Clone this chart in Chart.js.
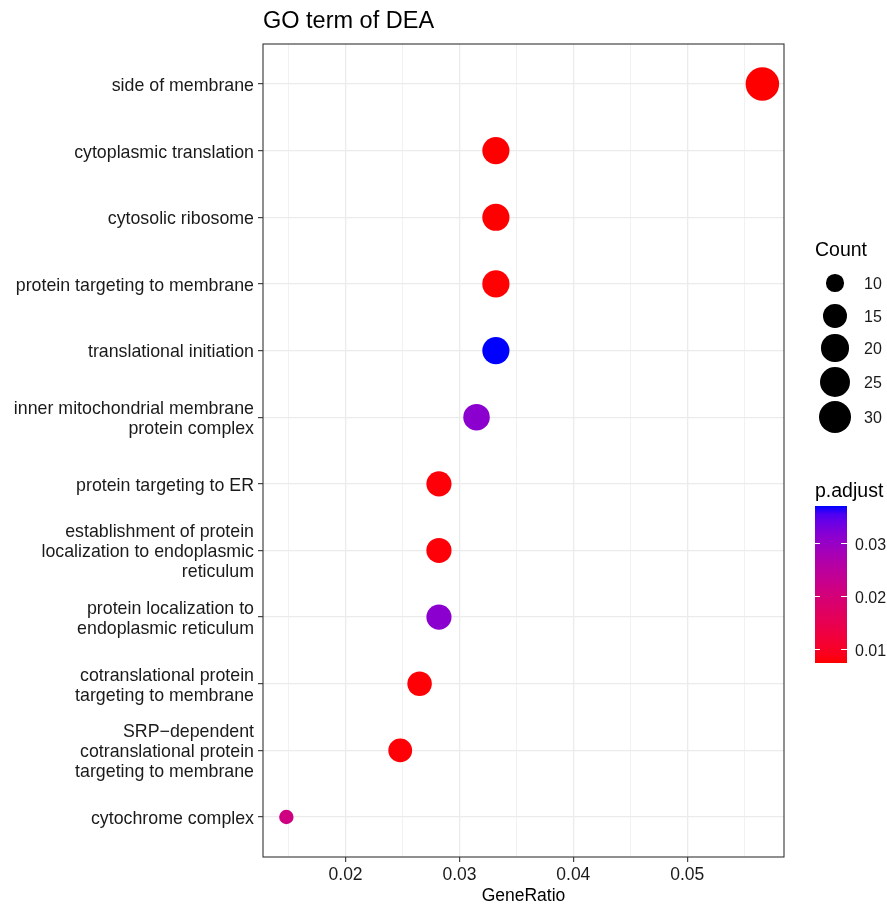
<!DOCTYPE html>
<html>
<head>
<meta charset="utf-8">
<title>GO term of DEA</title>
<script src="https://cdn.jsdelivr.net/npm/chart.js@4.4.1/dist/chart.umd.min.js"></script>
<style>
  html, body { margin: 0; padding: 0; background: #ffffff; }
  #wrap { position: relative; width: 887px; height: 904px; background: #ffffff; overflow: hidden; }
  #plot { position: absolute; left: 0; top: 0; }
  .lg { position: absolute; font-family: "Liberation Sans", Arial, Helvetica, sans-serif; color: #1a1a1a; white-space: nowrap; line-height: 1; }
  .lg-title { font-size: 19.5px; color: #000; }
  .lg-text { font-size: 16px; }
  .dot { position: absolute; border-radius: 50%; background: #000; }
  .bar-tick { position: absolute; height: 1px; background: #ffffff; }
</style>
</head>
<body>
<div id="wrap">
  <canvas id="plot" width="887" height="904"></canvas>
</div>
<script>
// GO terms, top to bottom
const terms = [
  "side of membrane",
  "cytoplasmic translation",
  "cytosolic ribosome",
  "protein targeting to membrane",
  "translational initiation",
  "inner mitochondrial membrane\nprotein complex",
  "protein targeting to ER",
  "establishment of protein\nlocalization to endoplasmic\nreticulum",
  "protein localization to\nendoplasmic reticulum",
  "cotranslational protein\ntargeting to membrane",
  "SRP\u2212dependent\ncotranslational protein\ntargeting to membrane",
  "cytochrome complex"
];
const geneRatio = [0.0566, 0.0332, 0.0332, 0.0332, 0.0332, 0.0315, 0.0282, 0.0282, 0.0282, 0.0265, 0.0248, 0.0148];
const geneCount = [34, 20, 20, 20, 20, 19, 17, 17, 17, 16, 15, 9];
const pAdjust   = [0.0075, 0.0075, 0.0075, 0.0076, 0.0372, 0.0313, 0.0078, 0.0078, 0.0313, 0.0077, 0.0077, 0.0213];

// axis and legend breaks
const xMajorTicks = [0.02, 0.03, 0.04, 0.05];
const xMinorTicks = [0.015, 0.025, 0.035, 0.045, 0.055];
const countBreaks = [10, 15, 20, 25, 30];
const pBreaks = [0.01, 0.02, 0.03];

const FONT = '"Liberation Sans", Arial, Helvetica, sans-serif';

// ---- colour scale: red (low) -> blue (high), interpolated in CIELAB ----
const P_MIN = 0.00745, P_MAX = 0.0372;
function toLin(c) { c /= 255; return c <= 0.04045 ? c / 12.92 : Math.pow((c + 0.055) / 1.055, 2.4); }
function fromLin(c) { c = Math.max(0, Math.min(1, c)); return c <= 0.0031308 ? 12.92 * c : 1.055 * Math.pow(c, 1 / 2.4) - 0.055; }
function rgbToLab(rgb) {
  const [R, G, B] = rgb.map(toLin);
  const X = (0.4124 * R + 0.3576 * G + 0.1805 * B) / 0.95047;
  const Y = (0.2126 * R + 0.7152 * G + 0.0722 * B);
  const Z = (0.0193 * R + 0.1192 * G + 0.9505 * B) / 1.08883;
  const f = t => t > 0.008856 ? Math.cbrt(t) : 7.787 * t + 16 / 116;
  const fx = f(X), fy = f(Y), fz = f(Z);
  return [116 * fy - 16, 500 * (fx - fy), 200 * (fy - fz)];
}
function labToRgb([L, a, b]) {
  const fy = (L + 16) / 116, fx = fy + a / 500, fz = fy - b / 200;
  const inv = t => t * t * t > 0.008856 ? t * t * t : (t - 16 / 116) / 7.787;
  const X = inv(fx) * 0.95047, Y = inv(fy), Z = inv(fz) * 1.08883;
  const R = 3.2406 * X - 1.5372 * Y - 0.4986 * Z;
  const G = -0.9689 * X + 1.8758 * Y + 0.0415 * Z;
  const B = 0.0557 * X - 0.2040 * Y + 1.0570 * Z;
  return [R, G, B].map(c => Math.round(fromLin(c) * 255));
}
const LAB_LOW = rgbToLab([255, 0, 0]);
const LAB_HIGH = rgbToLab([0, 0, 255]);
function colourAt(t) {
  t = Math.max(0, Math.min(1, t));
  const lab = LAB_LOW.map((v, i) => v + (LAB_HIGH[i] - v) * t);
  const [r, g, b] = labToRgb(lab);
  return `rgb(${r},${g},${b})`;
}
function pColour(p) { return colourAt((p - P_MIN) / (P_MAX - P_MIN)); }

// ---- size scale: gene count -> point radius (px) ----
const SIZE_KNOTS = [[9, 7.2], [10, 8.7], [15, 11.9], [20, 13.6], [25, 15.1], [30, 16.2], [35, 16.9]];
function countRadius(n) {
  for (let i = 1; i < SIZE_KNOTS.length; i++) {
    const [x0, r0] = SIZE_KNOTS[i - 1], [x1, r1] = SIZE_KNOTS[i];
    if (n <= x1) return r0 + (r1 - r0) * (n - x0) / (x1 - x0);
  }
  return SIZE_KNOTS[SIZE_KNOTS.length - 1][1];
}

// ---- panel border drawn over the plotting area ----
const panelBorder = {
  id: 'panelBorder',
  afterDatasetsDraw(chart) {
    const { ctx, chartArea: a } = chart;
    ctx.save();
    ctx.strokeStyle = '#333333';
    ctx.lineWidth = 1.1;
    ctx.strokeRect(a.left, a.top, a.right - a.left, a.bottom - a.top);
    ctx.restore();
  }
};

const isMajor = v => xMajorTicks.some(m => Math.abs(m - v) < 1e-9);

const points = terms.map((t, i) => ({ x: geneRatio[i], y: i }));

new Chart(document.getElementById('plot'), {
  type: 'scatter',
  data: {
    datasets: [{
      data: points,
      pointRadius: c => countRadius(geneCount[c.dataIndex]),
      pointHoverRadius: c => countRadius(geneCount[c.dataIndex]),
      pointBackgroundColor: c => pColour(pAdjust[c.dataIndex]),
      pointBorderWidth: 0,
      pointHoverBorderWidth: 0
    }]
  },
  options: {
    responsive: false,
    animation: false,
    devicePixelRatio: 1,
    events: [],
    layout: { padding: { left: 0, right: 103, top: 0, bottom: 0 } },
    plugins: {
      legend: { display: false },
      tooltip: { enabled: false },
      title: {
        display: true,
        text: 'GO term of DEA',
        align: 'start',
        fullSize: false,
        color: '#000000',
        font: { family: FONT, size: 23.5, weight: 'normal', lineHeight: 1.2 },
        padding: { top: 7, bottom: 8.8 }
      }
    },
    scales: {
      x: {
        type: 'linear',
        min: 0.01275,
        max: 0.0585,
        afterBuildTicks: s => {
          s.ticks = [...xMinorTicks, ...xMajorTicks].sort((a, b) => a - b).map(v => ({ value: v }));
        },
        afterFit: s => { s.height = 47; },
        ticks: {
          autoSkip: false,
          maxRotation: 0,
          minRotation: 0,
          padding: 3,
          color: '#1a1a1a',
          font: { family: FONT, size: 17.5 },
          callback: v => isMajor(v) ? v.toFixed(2) : ''
        },
        grid: {
          color: '#EBEBEB',
          lineWidth: c => (c.tick && isMajor(c.tick.value)) ? 1.3 : 0.7,
          tickColor: c => (c.tick && isMajor(c.tick.value)) ? '#333333' : 'rgba(0,0,0,0)',
          tickWidth: 1.1,
          tickLength: 5,
          drawTicks: true
        },
        border: { display: false },
        title: {
          display: true,
          text: 'GeneRatio',
          color: '#000000',
          font: { family: FONT, size: 17.5, lineHeight: 1.2 },
          padding: { top: 0, bottom: -3 }
        }
      },
      y: {
        type: 'linear',
        reverse: true,
        min: -0.6,
        max: terms.length - 0.4,
        afterBuildTicks: s => { s.ticks = terms.map((t, i) => ({ value: i })); },
        afterFit: s => { s.width = 263; },
        ticks: {
          autoSkip: false,
          padding: 4,
          labelOffset: 2,
          color: '#1a1a1a',
          font: { family: FONT, size: 17.8, lineHeight: 1.12 },
          callback: v => {
            const t = terms[Math.round(v)];
            return t === undefined ? '' : t.split('\n');
          }
        },
        grid: {
          color: '#EBEBEB',
          lineWidth: 1.3,
          tickColor: '#333333',
          tickWidth: 1.1,
          tickLength: 5,
          drawTicks: true
        },
        border: { display: false }
      }
    }
  },
  plugins: [panelBorder]
});

// ---- legends: point size (Count) and colour bar (p.adjust) ----
const wrap = document.getElementById('wrap');
function addText(cls, text, left, centerY) {
  const el = document.createElement('div');
  el.className = 'lg ' + cls;
  el.textContent = text;
  el.style.left = left + 'px';
  wrap.appendChild(el);
  el.style.top = (centerY - el.offsetHeight / 2) + 'px';
  return el;
}

// Count legend
addText('lg-title', 'Count', 815, 250);
const keyY = [283, 316, 348, 382, 417];
countBreaks.forEach((n, i) => {
  const r = countRadius(n);
  const d = document.createElement('div');
  d.className = 'dot';
  d.style.width = d.style.height = (2 * r) + 'px';
  d.style.left = (835 - r) + 'px';
  d.style.top = (keyY[i] - r) + 'px';
  wrap.appendChild(d);
  addText('lg-text', String(n), 864, keyY[i] + 1);
});

// p.adjust colour bar
addText('lg-title', 'p.adjust', 815, 491);
const BAR = { left: 815, top: 506, width: 32, height: 157 };
const bar = document.createElement('div');
bar.style.position = 'absolute';
bar.style.left = BAR.left + 'px';
bar.style.top = BAR.top + 'px';
bar.style.width = BAR.width + 'px';
bar.style.height = BAR.height + 'px';
const stops = [];
for (let k = 0; k <= 20; k++) stops.push(`${colourAt(k / 20)} ${k * 5}%`);
bar.style.background = `linear-gradient(to top, ${stops.join(', ')})`;
wrap.appendChild(bar);
pBreaks.forEach(v => {
  const y = BAR.top + BAR.height - (v - P_MIN) / (P_MAX - P_MIN) * BAR.height;
  [[BAR.left, 5], [BAR.left + BAR.width - 6, 6]].forEach(([x, w]) => {
    const t = document.createElement('div');
    t.className = 'bar-tick';
    t.style.left = x + 'px';
    t.style.width = w + 'px';
    t.style.top = (y - 0.5) + 'px';
    wrap.appendChild(t);
  });
  addText('lg-text', v.toFixed(2), 855, y + 1);
});
</script>
</body>
</html>
